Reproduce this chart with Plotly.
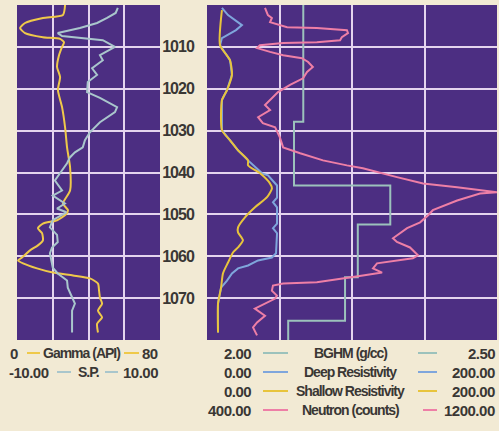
import plotly.graph_objects as go

W, H = 499, 431

# ---------------- data ----------------
depth_ticks = [1010, 1020, 1030, 1040, 1050, 1060, 1070]

gamma_depth = [1000, 1002.4, 1003.1, 1004.3, 1005.5, 1006.7, 1007.7, 1008.1, 1008.9, 1010, 1012,
               1014.8, 1017.2, 1020.3, 1024.4, 1029.2, 1034, 1038.8, 1044.3, 1047.4, 1049, 1050,
               1051.4, 1052.2, 1053.3, 1054.5, 1056.2, 1057.4, 1058.6, 1060.3, 1061, 1061.7, 1062.9,
               1063.9, 1064.6, 1065.3, 1066.5, 1068.2, 1069.9, 1071.3, 1073, 1074.6, 1076.1, 1078.2]
gamma_api = [26.9, 25.7, 14.5, 4.5, 1.7, 4.5, 14.5, 24.1, 26.3, 25.2, 23.5,
             22.4, 24.1, 22.9, 25.2, 26.9, 28.0, 29.7, 29.7, 25.7, 28.5, 27.4,
             22.4, 14.5, 11.7, 14.0, 14.5, 11.7, 7.3, 2.8, 0.6, 3.4, 11.2,
             20.1, 31.3, 40.8, 45.3, 45.9, 46.4, 47.6, 45.3, 47.6, 44.8, 45.3]

sp_depth = [1000.7, 1001.9, 1003.1, 1004.3, 1005.5, 1006.2, 1006.7, 1007.4, 1008.4, 1010, 1012,
            1013.2, 1015.1, 1016.7, 1018.4, 1020.8, 1022.2, 1024.4, 1025.6, 1028, 1030.4, 1032.3,
            1034, 1035.2, 1036.4, 1037.8, 1039.5, 1041.1, 1041.9, 1044.3, 1045.5, 1047.4, 1048.6,
            1049.5, 1051.4, 1053.1, 1054.9, 1056.6, 1057.9, 1059.3, 1062.7, 1064.1, 1065.8, 1067.5,
            1069.9, 1071.3, 1073, 1078.2]
sp_mv = [4.1, 3.8, 2.6, 1.2, -1.2, -3.0, -4.3, -3.7, 2.0, 3.7, 1.6,
         2.0, 0.5, 1.2, -0.1, -0.2, 1.6, 4.0, 3.7, 1.6, 0.2, -0.5,
         -0.8, -1.9, -2.6, -3.0, -3.7, -4.4, -4.7, -3.7, -5.0, -3.3, -4.4,
         -3.1, -5.0, -5.4, -4.4, -4.3, -5.1, -5.4, -5.0, -4.3, -3.0, -2.9,
         -2.3, -1.9, -2.3, -2.3]

bghm_depth = [1000, 1027.9, 1043.1, 1052.4, 1065.0, 1075.4, 1080]
bghm_gcc = [2.166, 2.150, 2.316, 2.260, 2.238, 2.140, 2.140]

shallow_depth = [1001.2, 1009.6, 1013.2, 1016.7, 1020.3, 1022.7, 1029.9, 1032.3, 1034.7, 1037.1,
                 1038.3, 1040.2, 1042.6, 1043.8, 1045.9, 1048.3, 1050.7, 1053.1, 1054.3, 1056.2,
                 1057.9, 1059.1, 1061.5, 1064.1, 1067.5, 1071.3, 1078.2]
shallow_res = [10.3, 9.0, 15.9, 17.2, 13.8, 10.3, 10.3, 15.9, 21.4, 28.3,
               28.3, 36.6, 43.4, 44.8, 41.4, 33.1, 26.2, 21.4, 21.4, 24.8,
               21.4, 17.9, 14.5, 11.0, 9.7, 7.6, 7.6]

deep_depth = [1000.7, 1002.4, 1004.8, 1006.0, 1007.9, 1009.6, 1013.2, 1016.7, 1020.3, 1022.7,
              1029.9, 1032.3, 1034.7, 1037.1, 1040.2, 1040.7, 1041.9, 1043.1, 1046.0, 1047.1,
              1048.3, 1052.2, 1053.3, 1054.5, 1059.3, 1060.3, 1061.0, 1062.2, 1062.9, 1064.1,
              1065.8, 1067.5, 1071.3, 1078.2]
deep_res = [10.3, 14.5, 24.1, 20.0, 10.3, 9.0, 15.9, 17.2, 13.8, 10.3,
            10.3, 15.9, 21.4, 28.3, 38.0, 42.1, 45.5, 48.3, 48.3, 45.5,
            48.3, 48.3, 45.5, 48.3, 47.6, 44.8, 35.2, 28.3, 21.4, 17.2,
            13.8, 9.7, 7.6, 7.6]

neutron_depth = [1000.7, 1002.4, 1003.1, 1004.1, 1005.3, 1005.5, 1006.0, 1006.7, 1007.7, 1008.4,
                 1008.9, 1009.1, 1009.6, 1010.3, 1011.2, 1012.0, 1012.7, 1013.6, 1014.8, 1016.0,
                 1017.5, 1019.1, 1020.8, 1022.0, 1023.9, 1025.1, 1026.8, 1028.2, 1029.2, 1031.6,
                 1034.0, 1035.4, 1037.1, 1038.3, 1039.0, 1041.1, 1042.6, 1043.5, 1044.3, 1044.7,
                 1045.0, 1046.7, 1049.0, 1050.2, 1051.9, 1053.3, 1055.7, 1056.6, 1057.9, 1059.8,
                 1060.5, 1061.0, 1061.7, 1062.9, 1063.9, 1064.6, 1065.3, 1066.2, 1066.5, 1067.0,
                 1068.2, 1069.4, 1070.1, 1071.3, 1072.5, 1074.2, 1075.8, 1077.0, 1078.9]
neutron_counts = [560, 568, 579, 574, 621, 703, 786, 789, 772, 767,
                  703, 610, 546, 538, 574, 610, 662, 679, 692, 676,
                  665, 629, 596, 582, 560, 574, 541, 554, 588, 601,
                  610, 657, 720, 786, 830, 924, 996, 1090, 1172, 1200,
                  1153, 1090, 1023, 1010, 988, 952, 913, 924, 960, 982,
                  968, 924, 869, 858, 883, 830, 775, 703, 610, 582,
                  579, 593, 588, 560, 532, 560, 538, 527, 538]

# ---------------- styles ----------------
BG = "#f2ead4"
PURPLE = "#4c2e82"
GRID = "#e4d4ee"
TXT = "#3a3734"
C_GAMMA = "#efc94a"
C_SP = "#a9c6cc"
C_BGHM = "#9cc2bc"
C_DEEP = "#7fa6dc"
C_SHAL = "#e8c43c"
C_NEUT = "#ee7fa6"
FONT = "Liberation Sans, Arial, sans-serif"

def px_x(x):
    return x / W

def px_y(y):
    return 1 - y / H

def tight(s, ls):
    return "<span style='letter-spacing:%spx'><b>%s</b></span>" % (ls, s)

dom_y = [px_y(340), px_y(5)]
dom_left = [px_x(17), px_x(160)]
dom_right = [px_x(207), px_x(497)]

fig = go.Figure()
LW = 2

fig.add_trace(go.Scatter(x=sp_mv, y=sp_depth, xaxis="x3", yaxis="y", mode="lines",
                         line=dict(color=C_SP, width=LW), name="S.P."))
fig.add_trace(go.Scatter(x=gamma_api, y=gamma_depth, xaxis="x", yaxis="y", mode="lines",
                         line=dict(color=C_GAMMA, width=LW, shape="spline", smoothing=0.6),
                         name="Gamma (API)"))
fig.add_trace(go.Scatter(x=bghm_gcc, y=bghm_depth, xaxis="x2", yaxis="y2", mode="lines",
                         line=dict(color=C_BGHM, width=LW, shape="vh"), name="BGHM (g/cc)"))
fig.add_trace(go.Scatter(x=deep_res, y=deep_depth, xaxis="x4", yaxis="y2", mode="lines",
                         line=dict(color=C_DEEP, width=LW), name="Deep Resistivity"))
fig.add_trace(go.Scatter(x=shallow_res, y=shallow_depth, xaxis="x4", yaxis="y2", mode="lines",
                         line=dict(color=C_SHAL, width=LW, shape="spline", smoothing=0.6),
                         name="Shallow Resistivity"))
fig.add_trace(go.Scatter(x=neutron_counts, y=neutron_depth, xaxis="x5", yaxis="y2", mode="lines",
                         line=dict(color=C_NEUT, width=LW), name="Neutron (counts)"))

grid_common = dict(showgrid=True, gridcolor=GRID, gridwidth=1.6, zeroline=False,
                   showticklabels=False, ticks="", showline=False, fixedrange=True)
hidden = dict(visible=False, fixedrange=True)

fig.update_layout(
    width=W, height=H,
    margin=dict(l=0, r=0, t=0, b=0),
    paper_bgcolor=BG, plot_bgcolor=PURPLE,
    showlegend=False,
    xaxis=dict(domain=dom_left, range=[0, 80], tickvals=[20, 40, 60], anchor="y", **grid_common),
    xaxis3=dict(range=[-10, 10], overlaying="x", anchor="y", **hidden),
    yaxis=dict(domain=dom_y, range=[1080, 1000], tickvals=depth_ticks, anchor="x", **grid_common),
    xaxis2=dict(domain=dom_right, range=[2.0, 2.5], tickvals=[2.125, 2.25, 2.375], anchor="y2",
                **grid_common),
    xaxis4=dict(range=[0, 200], overlaying="x2", anchor="y2", **hidden),
    xaxis5=dict(range=[400, 1200], overlaying="x2", anchor="y2", **hidden),
    yaxis2=dict(domain=dom_y, range=[1080, 1000], tickvals=depth_ticks,
                ticktext=[tight(str(d), -1.0) for d in depth_ticks], anchor="x2",
                showgrid=True, gridcolor=GRID, gridwidth=1.6, zeroline=False, showline=False,
                showticklabels=True, ticks="outside", ticklen=9, tickcolor=BG, fixedrange=True,
                tickfont=dict(family=FONT, size=16, color=TXT, weight="bold")),
)

annotations = []
shapes = []

def text(x, y, s, anchor, size=14, ls=-1.0):
    annotations.append(dict(x=px_x(x), y=px_y(y), xref="paper", yref="paper", text=tight(s, ls),
                            showarrow=False, xanchor=anchor, yanchor="middle",
                            font=dict(family=FONT, size=size, color=TXT, weight="bold")))

def num(x, y, s, anchor):
    text(x, y, s, anchor, size=15, ls=-0.5)

def dash(x0, x1, y, color):
    shapes.append(dict(type="line", xref="paper", yref="paper", x0=px_x(x0), x1=px_x(x1),
                       y0=px_y(y), y1=px_y(y), line=dict(color=color, width=2)))

# left legend
num(20, 353, "0", "right")
dash(27, 40, 353, C_GAMMA)
text(81, 353, "Gamma (API)", "center")
dash(124, 139, 353, C_GAMMA)
num(160, 353, "80", "right")

num(51, 372, "-10.00", "right")
dash(57, 71, 372, C_SP)
text(88, 372, "S.P.", "center")
dash(105, 118, 372, C_SP)
num(160, 372, "10.00", "right")

# right legend
rows = [
    ("2.00", "BGHM (g/cc)", "2.50", C_BGHM, 353),
    ("0.00", "Deep Resistivity", "200.00", C_DEEP, 372),
    ("0.00", "Shallow Resistivity", "200.00", C_SHAL, 391),
    ("400.00", "Neutron (counts)", "1200.00", C_NEUT, 410),
]
for i, (lo, name, hi, col, y) in enumerate(rows):
    num(253, y, lo, "right")
    dash(263, 288, y, col)
    text(350, y, name, "center")
    if i == 3:
        dash(423, 437, y, col)
    else:
        dash(418, 437, y, col)
    num(497, y, hi, "right")

fig.update_layout(annotations=annotations, shapes=shapes)

fig.write_html("out.html")
